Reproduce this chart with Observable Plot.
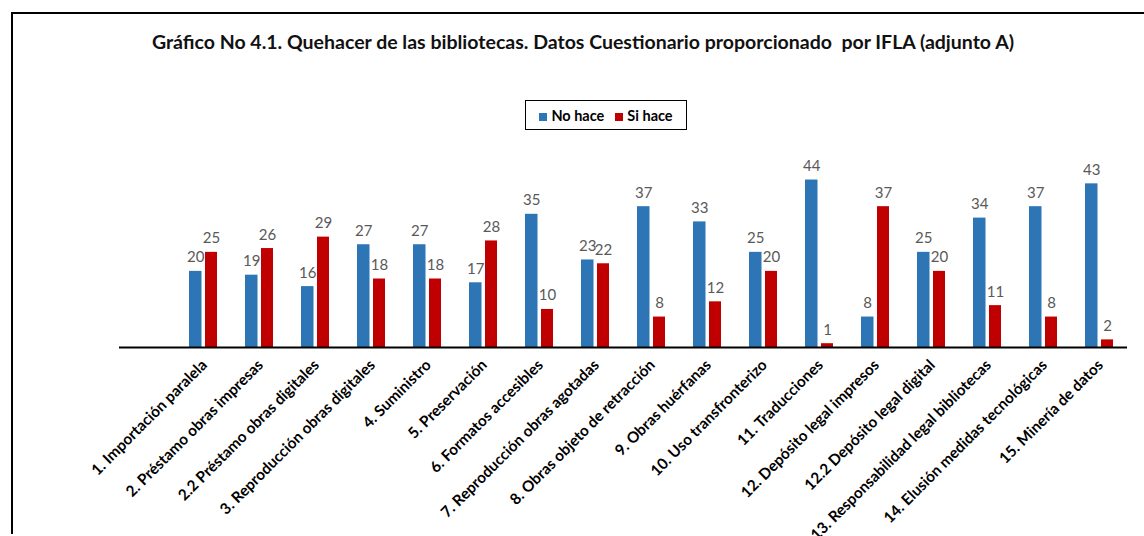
<!DOCTYPE html>
<html>
<head>
<meta charset="utf-8">
<script src="https://cdn.jsdelivr.net/npm/d3@7"></script>
<script src="https://cdn.jsdelivr.net/npm/@observablehq/plot@0.6"></script>
<style>
  html, body { margin: 0; padding: 0; background: #fff; }
  #wrap { position: relative; width: 1144px; height: 536px; overflow: hidden; font-family: Lato, "Open Sans", sans-serif; }
  #frame { position: absolute; left: 11px; top: 12px; width: 1200px; height: 522px; border-left: 2px solid #000; border-top: 2px solid #000; box-sizing: border-box; }
  #title { position: absolute; left: 0; width: 1166px; top: 30px; text-align: center; font-weight: bold; font-size: 19.5px; color: #111; white-space: pre; }
  #legend { position: absolute; left: 525px; top: 100px; width: 162px; height: 30px; border: 1.5px solid #000; box-sizing: border-box; display: flex; align-items: center; justify-content: center; gap: 11px; font-weight: bold; font-size: 14.5px; color: #000; }
  #legend span.sw { display: inline-block; width: 8px; height: 8px; margin-right: 4px; }
  #chart { position: absolute; left: 0; top: 0; }
</style>
</head>
<body>
<div id="wrap">
  <div id="frame"></div>
  <div id="title"></div>
  <div id="legend"></div>
  <div id="chart"></div>
</div>
<script>
const titleText = "Gráfico No 4.1. Quehacer de las bibliotecas. Datos Cuestionario proporcionado  por IFLA (adjunto A)";
const seriesNames = ["No hace", "Si hace"];
const seriesColors = ["#2E75B6", "#C00000"];
const categories = [
  "1. Importación paralela",
  "2. Préstamo obras impresas",
  "2.2 Préstamo obras digitales",
  "3. Reproducción obras digitales",
  "4. Suministro",
  "5. Preservación",
  "6. Formatos accesibles",
  "7. Reproducción obras agotadas",
  "8. Obras objeto de retracción",
  "9. Obras huérfanas",
  "10. Uso transfronterizo",
  "11. Traducciones",
  "12. Depósito legal impresos",
  "12.2 Depósito legal digital",
  "13. Responsabilidad legal bibliotecas",
  "14. Elusión medidas tecnológicas",
  "15. Minería de datos"
];
const noHace = [20, 19, 16, 27, 27, 17, 35, 23, 37, 33, 25, 44, 8, 25, 34, 37, 43];
const siHace = [25, 26, 29, 18, 18, 28, 10, 22, 8, 12, 20, 1, 37, 20, 11, 8, 2];

const rows = categories.map((c, i) => ({cat: c, no: noHace[i], si: siHace[i]}));
const xDomain = [""].concat(categories);

document.getElementById("title").textContent = titleText;
const legend = document.getElementById("legend");
seriesNames.forEach((n, i) => {
  const item = document.createElement("div");
  item.innerHTML = `<span class="sw" style="background:${seriesColors[i]}"></span>${n}`;
  legend.appendChild(item);
});

const valueFont = {fontSize: 15, fill: "#595959", fontFamily: "Lato, sans-serif", lineAnchor: "bottom", dy: -9};

const chart = Plot.plot({
  width: 1144,
  height: 536,
  marginLeft: 119,
  marginRight: 17,
  marginTop: 156.7,
  marginBottom: 189,
  style: {background: "transparent", overflow: "visible"},
  x: {type: "band", domain: xDomain, padding: 0},
  y: {domain: [0, 50], axis: null},
  marks: [
    Plot.barY(rows, {x: "cat", y: "no", fill: seriesColors[0], insetLeft: 14, insetRight: 29.5}),
    Plot.barY(rows, {x: "cat", y: "si", fill: seriesColors[1], insetLeft: 30, insetRight: 14}),
    Plot.text(rows, {x: "cat", y: "no", text: d => String(d.no), dx: -7.8, ...valueFont}),
    Plot.text(rows, {x: "cat", y: "si", text: d => String(d.si), dx: 8, ...valueFont}),
    Plot.ruleY([0], {stroke: "#000", strokeWidth: 2}),
    Plot.axisX({tickSize: 0, tickPadding: 15, tickRotate: -45, fontSize: 15.3, fontWeight: "bold", fill: "#000", fontFamily: "Lato, sans-serif", label: null, dx: 1})
  ]
});
document.getElementById("chart").appendChild(chart);
</script>
</body>
</html>
